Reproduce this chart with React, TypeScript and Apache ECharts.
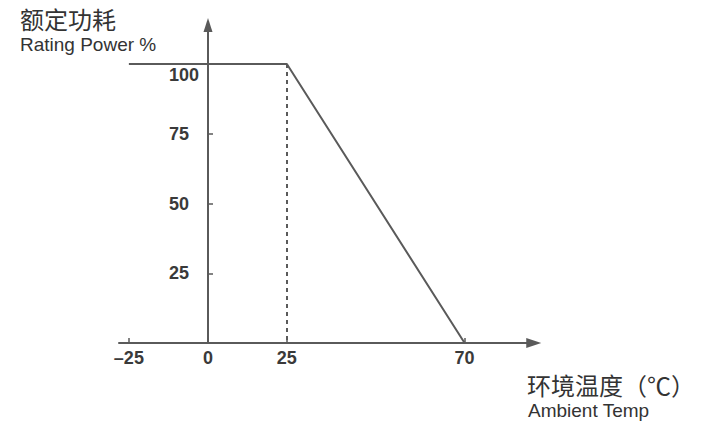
import React, { useEffect, useRef } from 'react';
import * as echarts from 'echarts';

// x-axis slots of the schematic derating chart (blank = unlabeled slot)
const tempCategories = [
  '', '-25',
  '', '', '', '', '', '', '',
  '0',
  '', '', '', '', '', '', '',
  '25',
  '', '', '', '', '', '', '', '', '', '', '', '', '', '', '', '', '',
  '70',
  '', '', '', '', '', '', '',
];
const powerTicks = [25, 50, 75, 100];
const curveTemps = ['-25', '25', '70'];
const curvePower = [100, 100, 0];
const ratedTemp = '25';
const ratedPower = 100;

const titleCn = '额定功耗';
const titleEn = 'Rating Power %';
const xNameCn = '环境温度（℃）';
const xNameEn = 'Ambient Temp';

const LATIN = 'Liberation Sans, Arial, Helvetica, sans-serif';
const CJK = 'Noto Sans CJK SC, Liberation Sans, sans-serif';
const LINE = '#5a5a5a';
const TEXT = '#333333';

export default function App() {
  const ref = useRef<HTMLDivElement>(null);
  useEffect(() => {
    if (!ref.current) return;
    const chart = echarts.init(ref.current, undefined, { renderer: 'svg' });
    chart.setOption({
      animation: false,
      backgroundColor: '#ffffff',
      grid: { left: 119, right: 173.25, top: 25, bottom: 92, containLabel: false },
      xAxis: {
        type: 'category',
        data: tempCategories,
        boundaryGap: false,
        axisLine: {
          lineStyle: { color: LINE, width: 2 },
          symbol: ['none', 'triangle'],
          symbolSize: [10, 15],
        },
        axisTick: {
          show: true,
          inside: true,
          length: 5,
          interval: (_i: number, v: string) => v !== '',
          lineStyle: { color: LINE, width: 1.5 },
        },
        axisLabel: {
          interval: 0,
          margin: 6,
          fontSize: 18,
          fontWeight: 'bold',
          fontFamily: LATIN,
          color: '#3a3a3a',
          formatter: (v: string) => v.replace('-', '–'),
        },
        splitLine: { show: false },
      },
      yAxis: {
        type: 'value',
        min: 0,
        max: 114,
        interval: 25,
        offset: -89,
        axisLine: {
          show: true,
          lineStyle: { color: LINE, width: 2 },
          symbol: ['none', 'triangle'],
          symbolSize: [9, 14],
        },
        axisTick: {
          show: true,
          inside: true,
          length: 5,
          customValues: powerTicks.filter((v) => v !== ratedPower),
          lineStyle: { color: LINE, width: 1.5 },
        },
        axisLabel: {
          customValues: powerTicks,
          align: 'left',
          margin: 39,
          fontFamily: LATIN,
          fontSize: 18,
          fontWeight: 'bold',
          color: '#3a3a3a',
          formatter: (v: number) => (v === ratedPower ? `{down|${v}}` : `{n|${v}}`),
          rich: {
            n: { fontSize: 18, fontWeight: 'bold', fontFamily: LATIN, color: '#3a3a3a' },
            down: {
              fontSize: 18,
              fontWeight: 'bold',
              fontFamily: LATIN,
              color: '#3a3a3a',
              padding: [22, 0, 0, 0],
            },
          },
        },
        splitLine: { show: false },
      },
      series: [
        {
          type: 'line',
          data: curveTemps.map((t, i) => [t, curvePower[i]]),
          symbol: 'none',
          lineStyle: { color: LINE, width: 2 },
          silent: true,
          markLine: {
            silent: true,
            symbol: ['none', 'none'],
            label: { show: false },
            lineStyle: { color: LINE, width: 2, type: [4, 4] },
            data: [[{ coord: [ratedTemp, ratedPower] }, { coord: [ratedTemp, 0] }]],
          },
        },
      ],
      graphic: [
        {
          type: 'text',
          x: 20,
          y: 18,
          style: { text: titleCn, fontSize: 24, fontFamily: CJK, fill: TEXT, verticalAlign: 'middle' },
        },
        {
          type: 'text',
          x: 20,
          y: 44,
          style: { text: titleEn, fontSize: 19, fontFamily: LATIN, fill: TEXT, verticalAlign: 'middle' },
        },
        {
          type: 'text',
          x: 527,
          y: 384,
          style: { text: xNameCn, fontSize: 24, fontFamily: CJK, fill: TEXT, verticalAlign: 'middle' },
        },
        {
          type: 'text',
          x: 528,
          y: 410,
          style: { text: xNameEn, fontSize: 19, fontFamily: LATIN, fill: TEXT, verticalAlign: 'middle' },
        },
      ],
    });
    return () => chart.dispose();
  }, []);
  return (
    <div
      ref={ref}
      style={{ position: 'fixed', left: 0, top: 0, width: 707, height: 435, background: '#fff' }}
    />
  );
}
